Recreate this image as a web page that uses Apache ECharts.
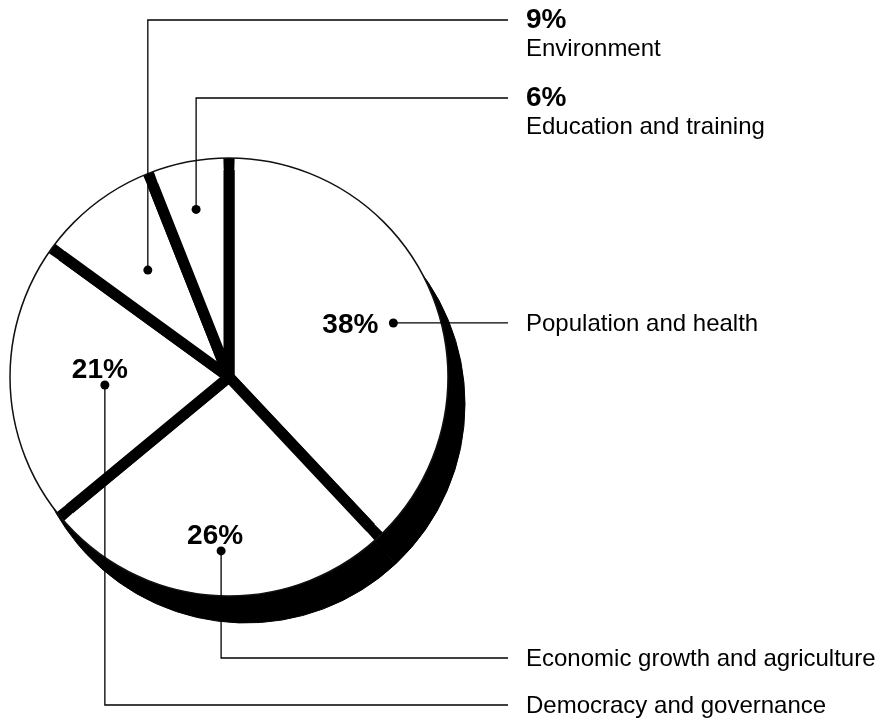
<!DOCTYPE html>
<html>
<head>
<meta charset="utf-8">
<script src="https://cdn.jsdelivr.net/npm/echarts@6/dist/echarts.min.js"></script>
<style>
html, body { margin: 0; padding: 0; background: #fff; }
#chart { width: 887px; height: 722px; }
</style>
</head>
<body>
<div id="chart"></div>
<script>
// shares, clockwise from 12 o'clock
const categories = ['Population and health', 'Economic growth and agriculture', 'Democracy and governance', 'Environment', 'Education and training'];
const shares = [38, 26, 21, 9, 6];

// layout (pixels / fractions)
const CX = 229, CY = 377, R = 219;
const SHADOW_DX = 17, SHADOW_DY = 27;
const GAP = 11;
const dotFrac = [0.79, 0.795, 0.568, 0.613, 0.78];
const dotTurn = [3.4, -1, -1.9, 0.6, -0.3];
const rowY = [null, 658, 705, 20, 98];
// percent text next to the dot: [align, dx, dy]
const pctAnchor = [['right', -15, 2], ['center', -6, -15], ['center', -5, -15], null, null];
const LINE_END = 508, TEXT_X = 526;
const FONT = '"Liberation Sans", Arial, Helvetica, sans-serif';

const total = shares.reduce((a, b) => a + b, 0);

function dotPoint(i) {
  let before = 0;
  for (let k = 0; k < i; k++) before += shares[k];
  const a = ((before + shares[i] / 2) / total * 360 + dotTurn[i]) * Math.PI / 180;
  const r = dotFrac[i] * R;
  return [CX + r * Math.sin(a), CY - r * Math.cos(a)];
}

function pieData() {
  return categories.map((name, i) => ({ name: name, value: shares[i] }));
}

function pie(extra) {
  return Object.assign({
    type: 'pie',
    center: [CX, CY],
    radius: R,
    startAngle: 90,
    clockwise: true,
    silent: true,
    animation: false,
    avoidLabelOverlap: false,
    emphasis: { disabled: true },
    label: { show: false },
    labelLine: { show: false },
    data: pieData()
  }, extra);
}

const clear = 'rgba(0,0,0,0)';

const chart = echarts.init(document.getElementById('chart'));
chart.setOption({
  backgroundColor: '#fff',
  series: [
    // extruded black side
    pie({
      z: 1,
      center: [CX + SHADOW_DX, CY + SHADOW_DY],
      itemStyle: { color: '#000', borderColor: '#000', borderWidth: 1 }
    }),
    // white slices with thick separators
    pie({
      z: 2,
      radius: R - GAP / 2,
      itemStyle: { color: '#fff', borderColor: '#000', borderWidth: GAP, borderJoin: 'round' }
    }),
    // rim band, gaps keep the separators running to the edge
    pie({
      z: 3,
      radius: [R - GAP - 1, R],
      padAngle: GAP / (R - GAP / 2) * 180 / Math.PI,
      itemStyle: { color: '#fff', borderWidth: 0 }
    }),
    // thin outline
    pie({
      z: 4,
      data: [{ name: 'rim', value: total }],
      itemStyle: { color: clear, borderColor: '#111', borderWidth: 1.5 }
    }),
    // category labels + leader lines
    pie({
      z: 5,
      itemStyle: { color: clear },
      label: {
        show: true,
        position: 'outside',
        fontFamily: FONT,
        color: '#000',
        formatter: function (p) {
          const i = p.dataIndex;
          return pctAnchor[i] ? '{n|' + p.name + '}' : '{p|' + shares[i] + '%}\n{n|' + p.name + '}';
        },
        rich: {
          p: { fontFamily: FONT, fontSize: 28, fontWeight: 'bold', lineHeight: 28, color: '#000' },
          n: { fontFamily: FONT, fontSize: 24, lineHeight: 30, color: '#000' }
        }
      },
      labelLine: { show: true, smooth: false, lineStyle: { color: '#000', width: 1.3 } },
      labelLayout: function (p) {
        const i = p.dataIndex;
        const d = dotPoint(i);
        const y = rowY[i] == null ? d[1] : rowY[i];
        const two = !pctAnchor[i];
        return {
          x: TEXT_X,
          y: two ? y - 14 : y + 1,
          align: 'left',
          verticalAlign: two ? 'top' : 'middle',
          labelLinePoints: [d, [d[0], y], [LINE_END, y]]
        };
      }
    }),
    // percentages inside the pie
    pie({
      z: 5,
      itemStyle: { color: clear },
      label: {
        show: true,
        position: 'inside',
        fontFamily: FONT,
        fontSize: 28,
        fontWeight: 'bold',
        color: '#000',
        formatter: function (p) {
          return pctAnchor[p.dataIndex] ? shares[p.dataIndex] + '%' : '';
        }
      },
      labelLayout: function (p) {
        const i = p.dataIndex;
        const d = dotPoint(i);
        const a = pctAnchor[i] || ['center', 0, 0];
        return { x: d[0] + a[1], y: d[1] + a[2], align: a[0], verticalAlign: 'middle' };
      }
    }),
    // dots at the start of each leader line
    pie({
      z: 6,
      itemStyle: { color: clear },
      label: {
        show: true,
        position: 'inside',
        formatter: '{d|}',
        rich: { d: { width: 9, height: 9, borderRadius: 4.5, backgroundColor: '#000' } }
      },
      labelLayout: function (p) {
        const d = dotPoint(p.dataIndex);
        return { x: d[0], y: d[1], align: 'center', verticalAlign: 'middle' };
      }
    })
  ]
});
</script>
</body>
</html>
